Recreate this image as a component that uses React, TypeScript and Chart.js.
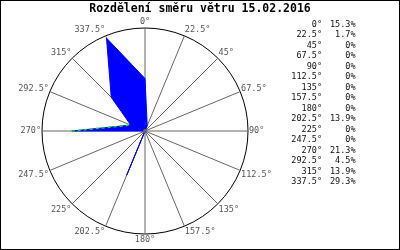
import React, { useEffect, useRef } from 'react';
import { Chart, registerables } from 'chart.js';

Chart.register(...registerables);

const directions = ['0°', '22.5°', '45°', '67.5°', '90°', '112.5°', '135°', '157.5°', '180°', '202.5°', '225°', '247.5°', '270°', '292.5°', '315°', '337.5°'];
const shares = [15.3, 1.7, 0, 0, 0, 0, 0, 0, 0, 13.9, 0, 0, 21.3, 4.5, 13.9, 29.3];
const legendValues = shares.map((v) => (v === 0 ? '0%' : v.toFixed(1) + '%'));
const scaleMax = 30;
const titleText = 'Rozdělení směru větru 15.02.2016';
const dashedFrom = 12;

const MONO = '"DejaVu Sans Mono", "Liberation Mono", monospace';

const decorPlugin = {
  id: 'decor',
  afterDatasetsDraw(chart: any) {
    const ctx = chart.ctx;
    const s = chart.scales.r;
    const a = s.getPointPositionForValue(dashedFrom, shares[dashedFrom]);
    const b = s.getPointPositionForValue(dashedFrom + 1, shares[dashedFrom + 1]);
    ctx.save();
    ctx.strokeStyle = '#00ee00';
    ctx.lineWidth = 1.5;
    ctx.setLineDash([3, 3]);
    ctx.beginPath();
    ctx.moveTo(a.x, a.y);
    ctx.lineTo(b.x, b.y);
    ctx.stroke();
    ctx.restore();
  },
  afterDraw(chart: any) {
    const ctx = chart.ctx;
    ctx.save();
    ctx.font = `bold 11.5px ${MONO}`;
    ctx.fillStyle = '#000';
    ctx.textAlign = 'center';
    ctx.textBaseline = 'middle';
    ctx.fillText(titleText, 200, 9);

    ctx.font = `8.5px ${MONO}`;
    ctx.fillStyle = '#111';
    ctx.textAlign = 'right';
    directions.forEach((d, i) => {
      const y = 24.7 + i * 10.49;
      ctx.fillText(d, 322, y);
      ctx.fillText(legendValues[i], 355.5, y);
    });

    const s = chart.scales.r;
    ctx.fillStyle = '#666';
    ctx.beginPath();
    ctx.arc(s.xCenter, s.yCenter, 2, 0, Math.PI * 2);
    ctx.fill();

    ctx.strokeStyle = '#000';
    ctx.lineWidth = 1;
    ctx.strokeRect(0.5, 0.5, 399, 249);
    ctx.restore();
  },
};

function labelLineHeight(i: number): string {
  if (i === 3 || i === 13) return '4px';
  if (i === 5 || i === 11) return '7px';
  return '10px';
}

export default function App() {
  const ref = useRef<HTMLCanvasElement | null>(null);
  useEffect(() => {
    document.body.style.margin = '0';
    const canvas = ref.current;
    if (!canvas) return;
    const chart = new Chart(canvas, {
      type: 'radar',
      data: {
        labels: directions,
        datasets: [
          {
            data: shares,
            backgroundColor: '#0000ff',
            borderColor: '#0000ff',
            borderWidth: 1,
            fill: true,
            pointRadius: 0,
            pointHoverRadius: 0,
            tension: 0,
          } as any,
        ],
      },
      options: {
        animation: false,
        responsive: false,
        devicePixelRatio: 1,
        layout: { padding: { left: 5, right: 115, top: 17, bottom: 5 } },
        plugins: {
          legend: { display: false },
          title: { display: false },
          tooltip: { enabled: false },
        },
        scales: {
          r: {
            min: 0,
            max: scaleMax,
            afterBuildTicks: (s: any) => {
              s.ticks = [{ value: 0 }, { value: scaleMax }];
            },
            ticks: { display: false },
            grid: { circular: true, color: '#000', lineWidth: 1 },
            angleLines: { color: '#666', lineWidth: 1 },
            pointLabels: {
              padding: 1,
              color: '#555',
              font: (c: any) => ({ family: MONO, size: 8.5, lineHeight: labelLineHeight(c.index) }),
            },
          } as any,
        },
      },
      plugins: [decorPlugin],
    });
    return () => chart.destroy();
  }, []);
  return <canvas ref={ref} width={400} height={250} style={{ display: 'block', width: 400, height: 250 }} />;
}
